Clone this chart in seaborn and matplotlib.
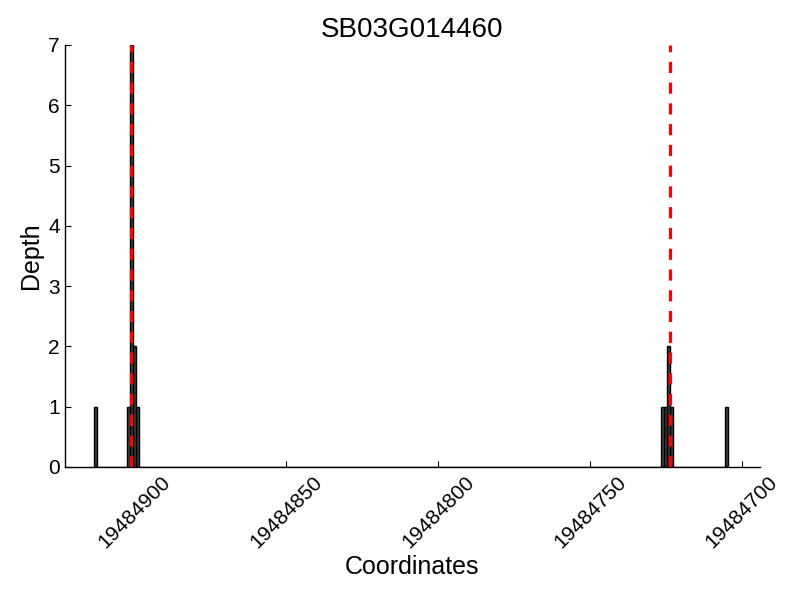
import matplotlib
matplotlib.use("Agg")
import matplotlib.pyplot as plt
import seaborn as sns
import pandas as pd

coords = [19484913, 19484902, 19484901, 19484900, 19484899,
          19484726, 19484725, 19484724, 19484723, 19484705]
depths = [1, 1, 7, 2, 1, 1, 1, 2, 1, 1]
site_lines = [19484901.3, 19484723.7]
xticks = [19484900, 19484850, 19484800, 19484750, 19484700]
title = "SB03G014460"

sns.set_style("white")
plt.rcParams['font.family'] = ['Liberation Sans', 'DejaVu Sans']
plt.rcParams['text.color'] = 'black'
plt.rcParams['axes.labelcolor'] = 'black'
plt.rcParams['xtick.color'] = 'black'
plt.rcParams['ytick.color'] = 'black'

df = pd.DataFrame({"coord": coords, "depth": depths})

fig = plt.figure(figsize=(8, 6), dpi=100)
ax = fig.add_axes([0.081, 0.222, 0.869, 0.703])

sns.histplot(data=df, x="coord", weights="depth", discrete=True, shrink=1,
             color="#404040", edgecolor="black", linewidth=1, alpha=1, ax=ax)

for s in site_lines:
    ax.axvline(s, color="red", linestyle=(0, (3.5, 3)), linewidth=2.3, zorder=5)

ax.set_xlim(19484923, 19484694)
ax.set_ylim(0, 7)
ax.set_xticks(xticks)
ax.set_xticklabels([str(t) for t in xticks], rotation=45, fontsize=15)
ax.set_yticks(range(8))
ax.set_yticklabels([str(i) for i in range(8)], fontsize=15)
ax.tick_params(axis="both", direction="in", length=4, width=0.8, bottom=True, left=True, colors="black")
ax.tick_params(axis="x", pad=4)
for sp in ["top", "right"]:
    ax.spines[sp].set_visible(False)
for sp in ["left", "bottom"]:
    ax.spines[sp].set_color("black")
    ax.spines[sp].set_linewidth(1)

ax.set_xlabel("Coordinates", fontsize=18, color="black", labelpad=2)
ax.set_ylabel("Depth", fontsize=18, color="black")
ax.set_title(title, fontsize=20, color="black")

fig.savefig("out.png", dpi=100)
